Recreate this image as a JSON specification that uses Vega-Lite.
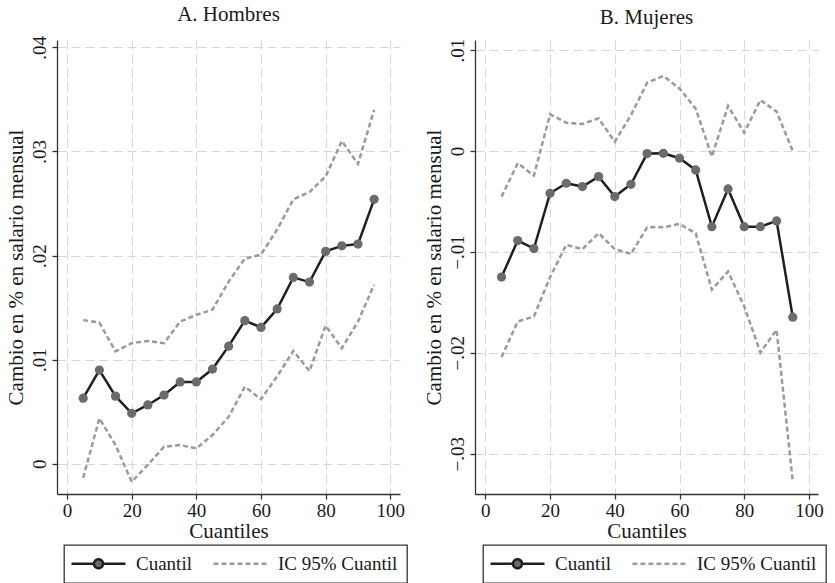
{
  "$schema": "https://vega.github.io/schema/vega-lite/v6.json",
  "background": "white",
  "padding": {"left": 5, "top": 4, "right": 5, "bottom": 0},
  "spacing": 15,
  "config": {
    "font": "Liberation Serif",
    "view": {"stroke": null},
    "axis": {
      "labelFont": "Liberation Serif", "labelFontSize": 19, "labelColor": "#1a1a1a",
      "titleFont": "Liberation Serif", "titleFontSize": 21, "titleFontWeight": "normal", "titleColor": "#1a1a1a",
      "domainColor": "#333", "domainWidth": 1.3, "tickColor": "#333", "tickWidth": 1.3, "tickSize": 5,
      "gridColor": "#d6d6d6", "gridDash": [9, 5], "gridWidth": 1
    },
    "title": {"font": "Liberation Serif", "fontSize": 21, "fontWeight": "normal", "color": "#1a1a1a", "offset": 10},
    "legend": {
      "orient": "none", "legendX": 7, "legendY": 505, "direction": "horizontal",
      "strokeColor": "#333", "strokeWidth": 1.3, "padding": 9,
      "labelFont": "Liberation Serif", "labelFontSize": 19, "labelColor": "#1a1a1a",
      "symbolSize": 100, "symbolStrokeWidth": 2.5, "columnPadding": 16, "labelOffset": 44
    }
  },
  "datasets": {
    "hombres": [
      {"q": 5, "est": 0.0063, "lo": -0.00135, "hi": 0.0138},
      {"q": 10, "est": 0.0090, "lo": 0.00437, "hi": 0.01356},
      {"q": 15, "est": 0.0065, "lo": 0.0018, "hi": 0.0108},
      {"q": 20, "est": 0.00485, "lo": -0.00173, "hi": 0.01158},
      {"q": 25, "est": 0.00565, "lo": -0.0001, "hi": 0.0118},
      {"q": 30, "est": 0.0066, "lo": 0.00164, "hi": 0.01158},
      {"q": 35, "est": 0.00786, "lo": 0.0018, "hi": 0.01366},
      {"q": 40, "est": 0.00786, "lo": 0.00148, "hi": 0.0143},
      {"q": 45, "est": 0.0091, "lo": 0.00276, "hi": 0.0148},
      {"q": 50, "est": 0.0113, "lo": 0.00452, "hi": 0.0175},
      {"q": 55, "est": 0.01375, "lo": 0.0074, "hi": 0.0197},
      {"q": 60, "est": 0.0131, "lo": 0.0062, "hi": 0.0201},
      {"q": 65, "est": 0.01487, "lo": 0.0084, "hi": 0.0225},
      {"q": 70, "est": 0.0179, "lo": 0.01084, "hi": 0.0254},
      {"q": 75, "est": 0.01745, "lo": 0.0089, "hi": 0.0261},
      {"q": 80, "est": 0.0204, "lo": 0.01327, "hi": 0.0276},
      {"q": 85, "est": 0.02093, "lo": 0.0111, "hi": 0.0310},
      {"q": 90, "est": 0.0211, "lo": 0.01366, "hi": 0.0288},
      {"q": 95, "est": 0.0254, "lo": 0.0172, "hi": 0.0340}
    ],
    "mujeres": [
      {"q": 5, "est": -0.0125, "lo": -0.02043, "hi": -0.00452},
      {"q": 10, "est": -0.00888, "lo": -0.0169, "hi": -0.00122},
      {"q": 15, "est": -0.00967, "lo": -0.0164, "hi": -0.00244},
      {"q": 20, "est": -0.00419, "lo": -0.0125, "hi": 0.00363},
      {"q": 25, "est": -0.0032, "lo": -0.0093, "hi": 0.0028},
      {"q": 30, "est": -0.00353, "lo": -0.00973, "hi": 0.00267},
      {"q": 35, "est": -0.00254, "lo": -0.00815, "hi": 0.00323},
      {"q": 40, "est": -0.00452, "lo": -0.00973, "hi": 0.00092},
      {"q": 45, "est": -0.0033, "lo": -0.0102, "hi": 0.00356},
      {"q": 50, "est": -0.00026, "lo": -0.00756, "hi": 0.00676},
      {"q": 55, "est": -0.00023, "lo": -0.00756, "hi": 0.00743},
      {"q": 60, "est": -0.00072, "lo": -0.00723, "hi": 0.0062},
      {"q": 65, "est": -0.00188, "lo": -0.00815, "hi": 0.0042},
      {"q": 70, "est": -0.0075, "lo": -0.01376, "hi": -0.00056},
      {"q": 75, "est": -0.00376, "lo": -0.01195, "hi": 0.00446},
      {"q": 80, "est": -0.0075, "lo": -0.0154, "hi": 0.00181},
      {"q": 85, "est": -0.0075, "lo": -0.01997, "hi": 0.00505},
      {"q": 90, "est": -0.00693, "lo": -0.01772, "hi": 0.0039},
      {"q": 95, "est": -0.01647, "lo": -0.03274, "hi": 0.0}
    ]
  },
  "resolve": {"scale": {"y": "independent", "color": "independent"}, "legend": {"color": "independent"}},
  "hconcat": [
    {
      "title": "A. Hombres",
      "width": 343, "height": 454,
      "data": {"name": "hombres"},
      "encoding": {
        "x": {"field": "q", "type": "quantitative", "title": "Cuantiles",
              "scale": {"domain": [-3.1, 103], "nice": false, "zero": false},
              "axis": {"values": [0, 20, 40, 60, 80, 100], "labelPadding": 2, "titlePadding": 0, "labelFlush": false}}
      },
      "layer": [
        {
          "mark": {"type": "line", "strokeWidth": 2.5, "strokeDash": [5, 3]},
          "encoding": {
            "y": {"field": "hi", "type": "quantitative", "title": "Cambio en % en salario mensual",
                  "scale": {"domain": [-0.0029, 0.0407], "nice": false, "zero": false},
                  "axis": {"values": [0, 0.01, 0.02, 0.03, 0.04], "labelAngle": -90, "labelPadding": 3, "titlePadding": 4,
                           "labelExpr": "replace(format(datum.value, '.2~f'), '0.', '.')"}},
            "color": {"datum": "IC 95% Cuantil", "type": "nominal",
                      "scale": {"domain": ["Cuantil", "IC 95% Cuantil"], "range": ["#1f1f1f", "#9a9a9a"]},
                      "legend": {"title": null,
                        "encode": {"symbols": {"update": {
                          "shape": {"signal": "datum.value === 'Cuantil' ? 'M-2.2,0H2.3M4.1,0H8.6M4.1,0A0.9,0.9 0 1,1 2.3,0A0.9,0.9 0 1,1 4.1,0Z' : 'M-2.2,0H8.6'"},
                          "fill": {"signal": "datum.value === 'Cuantil' ? '#6b6b6b' : 'transparent'"},
                          "strokeDash": {"signal": "datum.value === 'Cuantil' ? [1,0] : [5,3]"}
                        }}}}}
          }
        },
        {
          "mark": {"type": "line", "strokeWidth": 2.5, "strokeDash": [5, 3]},
          "encoding": {
            "y": {"field": "lo", "type": "quantitative"},
            "color": {"datum": "IC 95% Cuantil", "type": "nominal"}
          }
        },
        {
          "mark": {"type": "line", "strokeWidth": 2.5},
          "encoding": {
            "y": {"field": "est", "type": "quantitative"},
            "color": {"datum": "Cuantil", "type": "nominal"}
          }
        },
        {
          "mark": {"type": "point", "filled": true, "size": 85, "color": "#6b6b6b", "opacity": 1},
          "encoding": {"y": {"field": "est", "type": "quantitative"}}
        }
      ]
    },
    {
      "title": "B. Mujeres",
      "width": 343, "height": 454,
      "data": {"name": "mujeres"},
      "encoding": {
        "x": {"field": "q", "type": "quantitative", "title": "Cuantiles",
              "scale": {"domain": [-3.2, 102.8], "nice": false, "zero": false},
              "axis": {"values": [0, 20, 40, 60, 80, 100], "labelPadding": 2, "titlePadding": 0, "labelFlush": false}}
      },
      "layer": [
        {
          "mark": {"type": "line", "strokeWidth": 2.5, "strokeDash": [5, 3]},
          "encoding": {
            "y": {"field": "hi", "type": "quantitative", "title": "Cambio en % en salario mensual",
                  "scale": {"domain": [-0.034, 0.011], "nice": false, "zero": false},
                  "axis": {"values": [-0.03, -0.02, -0.01, 0, 0.01], "labelAngle": -90, "labelPadding": 3, "titlePadding": 4,
                           "labelExpr": "replace(format(datum.value, '.2~f'), '0.', '.')"}},
            "color": {"datum": "IC 95% Cuantil", "type": "nominal",
                      "scale": {"domain": ["Cuantil", "IC 95% Cuantil"], "range": ["#1f1f1f", "#9a9a9a"]},
                      "legend": {"title": null, "legendX": 8,
                        "encode": {"symbols": {"update": {
                          "shape": {"signal": "datum.value === 'Cuantil' ? 'M-2.2,0H2.3M4.1,0H8.6M4.1,0A0.9,0.9 0 1,1 2.3,0A0.9,0.9 0 1,1 4.1,0Z' : 'M-2.2,0H8.6'"},
                          "fill": {"signal": "datum.value === 'Cuantil' ? '#6b6b6b' : 'transparent'"},
                          "strokeDash": {"signal": "datum.value === 'Cuantil' ? [1,0] : [5,3]"}
                        }}}}}
          }
        },
        {
          "mark": {"type": "line", "strokeWidth": 2.5, "strokeDash": [5, 3]},
          "encoding": {
            "y": {"field": "lo", "type": "quantitative"},
            "color": {"datum": "IC 95% Cuantil", "type": "nominal"}
          }
        },
        {
          "mark": {"type": "line", "strokeWidth": 2.5},
          "encoding": {
            "y": {"field": "est", "type": "quantitative"},
            "color": {"datum": "Cuantil", "type": "nominal"}
          }
        },
        {
          "mark": {"type": "point", "filled": true, "size": 85, "color": "#6b6b6b", "opacity": 1},
          "encoding": {"y": {"field": "est", "type": "quantitative"}}
        }
      ]
    }
  ]
}
